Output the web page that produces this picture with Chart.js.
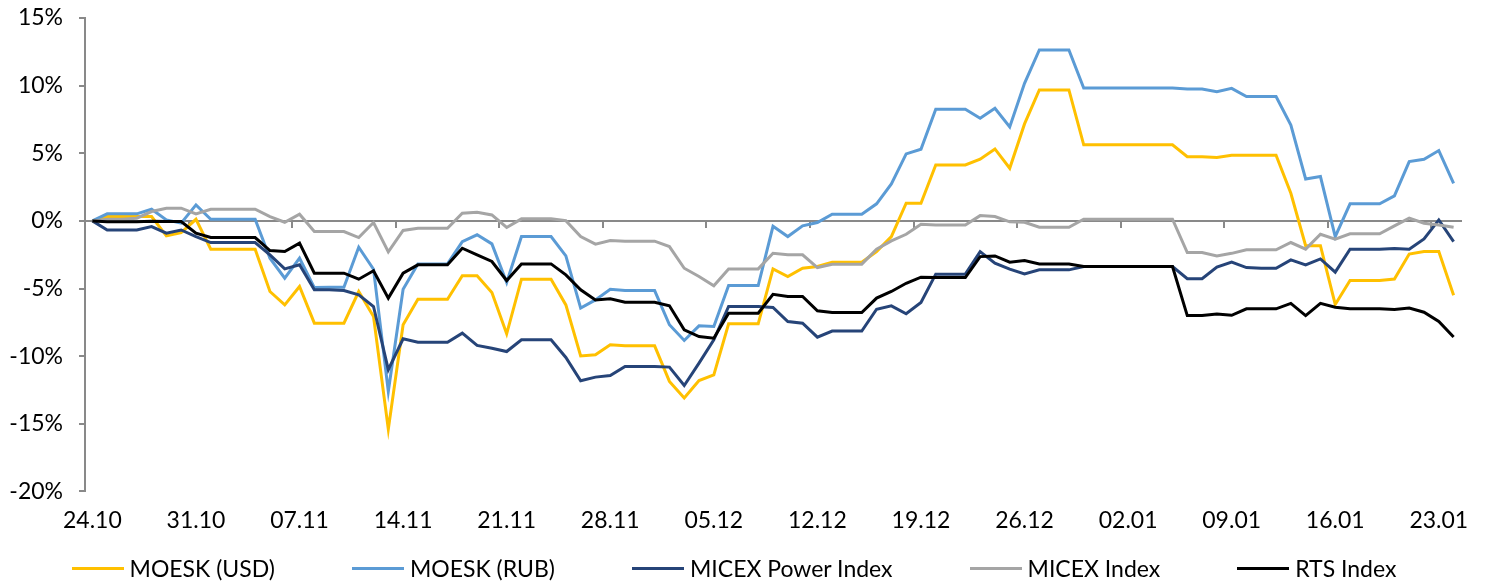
<!DOCTYPE html>
<html>
<head>
<meta charset="utf-8">
<script src="https://cdn.jsdelivr.net/npm/chart.js@4/dist/chart.umd.min.js"></script>
<style>
    html, body { margin: 0; padding: 0; background: #fff; }
    #chartWrap { position: relative; width: 1485px; height: 586px; }
    #legend {
        position: absolute; left: 0; top: 553px; width: 1485px; height: 30px;
        display: flex; justify-content: center; gap: 77px;
        font-family: Lato; font-size: 23px; line-height: 30px; color: #000;
        padding-right: 17px; box-sizing: border-box;
    }
    #legend .item { display: flex; align-items: center; white-space: nowrap; }
    #legend .swatch { width: 52px; height: 3px; margin-right: 6px; }
</style>
</head>
<body>
<div id="chartWrap">
    <canvas id="chartData"></canvas>
    <div id="legend"></div>
</div>
<script>
// one category per calendar day, 24.10 .. 24.01
const dates = [
    '24.10', '25.10', '26.10', '27.10', '28.10', '29.10', '30.10', '31.10',
    '01.11', '02.11', '03.11', '04.11', '05.11', '06.11', '07.11', '08.11', '09.11', '10.11',
    '11.11', '12.11', '13.11', '14.11', '15.11', '16.11', '17.11', '18.11', '19.11', '20.11',
    '21.11', '22.11', '23.11', '24.11', '25.11', '26.11', '27.11', '28.11', '29.11', '30.11',
    '01.12', '02.12', '03.12', '04.12', '05.12', '06.12', '07.12', '08.12', '09.12', '10.12',
    '11.12', '12.12', '13.12', '14.12', '15.12', '16.12', '17.12', '18.12', '19.12', '20.12',
    '21.12', '22.12', '23.12', '24.12', '25.12', '26.12', '27.12', '28.12', '29.12', '30.12', '31.12',
    '01.01', '02.01', '03.01', '04.01', '05.01', '06.01', '07.01', '08.01', '09.01', '10.01',
    '11.01', '12.01', '13.01', '14.01', '15.01', '16.01', '17.01', '18.01', '19.01', '20.01',
    '21.01', '22.01', '23.01', '24.01'
];

// a date label every 7th day
const labelStep = 7;

// y axis, percent
const yMin = -20;
const yMax = 15;
const yStep = 5;

const moeskUsd = [
    0, 0.32, 0.32, 0.32, 0.32, -1.11, -0.86, 0.12, -2.09, -2.09,
    -2.09, -2.09, -5.22, -6.21, -4.85, -7.56, -7.56, -7.56, -5.22, -7.07,
    -15.4, -7.68, -5.79, -5.79, -5.79, -4.06, -4.06, -5.3, -8.35, -4.31,
    -4.31, -4.31, -6.21, -9.98, -9.9, -9.16, -9.24, -9.24, -9.24, -11.87,
    -13.1, -11.8, -11.38, -7.61, -7.61, -7.61, -3.55, -4.11, -3.5, -3.37,
    -3.05, -3.05, -3.05, -2.27, -1.16, 1.31, 1.31, 4.14, 4.14, 4.14,
    4.56, 5.32, 3.89, 7.17, 9.68, 9.68, 9.68, 5.62, 5.62, 5.62,
    5.62, 5.62, 5.62, 5.62, 4.75, 4.75, 4.68, 4.85, 4.85, 4.85,
    4.85, 2.04, -1.83, -1.83, -6.18, -4.4, -4.4, -4.4, -4.3, -2.45,
    -2.27, -2.27, -5.5
];

const moeskRub = [
    0, 0.52, 0.52, 0.52, 0.86, 0.07, -0.17, 1.18, 0.12, 0.12,
    0.12, 0.12, -2.76, -4.24, -2.76, -4.93, -4.9, -4.9, -1.95, -3.57,
    -12.6, -5.05, -3.18, -3.18, -3.18, -1.53, -1.03, -1.7, -4.56, -1.16,
    -1.16, -1.16, -2.59, -6.45, -5.84, -5.05, -5.15, -5.15, -5.15, -7.68,
    -8.84, -7.76, -7.81, -4.78, -4.78, -4.78, -0.4, -1.16, -0.37, -0.12,
    0.49, 0.49, 0.49, 1.26, 2.73, 4.95, 5.3, 8.25, 8.25, 8.25,
    7.59, 8.33, 6.95, 10.17, 12.64, 12.64, 12.64, 9.82, 9.82, 9.82,
    9.82, 9.82, 9.82, 9.82, 9.75, 9.75, 9.55, 9.8, 9.2, 9.2,
    9.2, 7.09, 3.1, 3.28, -1.16, 1.26, 1.26, 1.26, 1.85, 4.38,
    4.56, 5.2, 2.78
];

const micexPower = [
    0, -0.67, -0.67, -0.67, -0.42, -0.91, -0.67, -1.16, -1.6, -1.6,
    -1.6, -1.6, -2.51, -3.55, -3.25, -5.1, -5.1, -5.15, -5.47, -6.33,
    -11.0, -8.72, -8.97, -8.97, -8.97, -8.3, -9.21, -9.41, -9.66, -8.79,
    -8.79, -8.79, -10.1, -11.82, -11.55, -11.43, -10.76, -10.76, -10.76, -10.81,
    -12.17, -10.52, -8.79, -6.33, -6.33, -6.33, -6.4, -7.44, -7.56, -8.6,
    -8.15, -8.15, -8.15, -6.53, -6.28, -6.87, -6.03, -3.94, -3.94, -3.94,
    -2.27, -3.13, -3.57, -3.92, -3.62, -3.62, -3.62, -3.37, -3.37, -3.37,
    -3.37, -3.37, -3.37, -3.37, -4.27, -4.27, -3.42, -3.05, -3.45, -3.5,
    -3.5, -2.88, -3.25, -2.81, -3.79, -2.09, -2.09, -2.09, -2.04, -2.09,
    -1.33, 0.07, -1.53
];

const micexIndex = [
    0, 0.12, 0.12, 0.2, 0.69, 0.94, 0.94, 0.52, 0.86, 0.86,
    0.86, 0.86, 0.32, -0.1, 0.49, -0.79, -0.79, -0.79, -1.23, -0.12,
    -2.29, -0.71, -0.54, -0.54, -0.54, 0.57, 0.64, 0.44, -0.49, 0.15,
    0.15, 0.15, 0.02, -1.16, -1.72, -1.45, -1.5, -1.5, -1.5, -1.9,
    -3.5, -4.11, -4.8, -3.55, -3.55, -3.55, -2.39, -2.51, -2.51, -3.45,
    -3.2, -3.2, -3.2, -2.09, -1.48, -0.99, -0.25, -0.3, -0.3, -0.3,
    0.39, 0.32, -0.07, -0.1, -0.47, -0.47, -0.47, 0.13, 0.13, 0.13,
    0.13, 0.13, 0.13, 0.13, -2.34, -2.34, -2.6, -2.4, -2.14, -2.14,
    -2.14, -1.6, -2.09, -0.99, -1.35, -0.96, -0.96, -0.96, -0.37, 0.2,
    -0.17, -0.3, -0.47
];

const rtsIndex = [
    0, -0.07, -0.07, -0.07, -0.02, -0.05, -0.05, -0.91, -1.23, -1.23,
    -1.23, -1.23, -2.19, -2.27, -1.65, -3.87, -3.87, -3.87, -4.31, -3.69,
    -5.71, -3.87, -3.25, -3.25, -3.25, -2.02, -2.51, -3.0, -4.41, -3.18,
    -3.18, -3.18, -3.99, -5.1, -5.84, -5.76, -6.01, -6.01, -6.01, -6.28,
    -8.05, -8.55, -8.67, -6.82, -6.82, -6.82, -5.43, -5.59, -5.59, -6.65,
    -6.77, -6.77, -6.77, -5.71, -5.22, -4.61, -4.16, -4.19, -4.19, -4.19,
    -2.64, -2.59, -3.05, -2.93, -3.18, -3.18, -3.18, -3.37, -3.37, -3.37,
    -3.37, -3.37, -3.37, -3.37, -7.0, -7.0, -6.88, -6.98, -6.5, -6.5,
    -6.5, -6.1, -7.0, -6.1, -6.38, -6.5, -6.5, -6.5, -6.55, -6.45,
    -6.75, -7.44, -8.59
];

const seriesNames = ['MOESK (USD)', 'MOESK (RUB)', 'MICEX Power Index', 'MICEX Index', 'RTS Index'];
const seriesValues = [moeskUsd, moeskRub, micexPower, micexIndex, rtsIndex];
const seriesColors = ['#FFC000', '#5B9BD5', '#264478', '#A5A5A5', '#000000'];

const axisGray = '#898989';
const font = { family: 'Lato', size: 23 };

let datasets = [];
for (let i = 0; i < seriesNames.length; i++) {
    datasets.push({
        label: seriesNames[i],
        data: seriesValues[i],
        borderColor: seriesColors[i],
        backgroundColor: seriesColors[i],
        borderWidth: 3,
        pointRadius: 0,
        tension: 0,
        order: seriesNames.length - i   // later series drawn on top, like Excel
    });
}

// legend below the chart, built from the same series
const legendEl = document.getElementById('legend');
datasets.forEach(ds => {
    let item = document.createElement('div');
    item.className = 'item';
    let sw = document.createElement('span');
    sw.className = 'swatch';
    sw.style.background = ds.borderColor;
    item.appendChild(sw);
    item.appendChild(document.createTextNode(ds.label));
    legendEl.appendChild(item);
});

const ctx = document.getElementById('chartData');

new Chart(ctx, {
    type: 'line',
    data: {
        labels: dates,
        datasets: datasets
    },
    options: {
        responsive: true,
        maintainAspectRatio: false,
        animation: false,
        layout: {
            padding: { left: 0, right: 24, top: 18, bottom: 45 }
        },
        plugins: {
            tooltip: { enabled: false },
            legend: { display: false }
        },
        scales: {
            x: {
                type: 'category',
                offset: true,
                grid: { display: false },
                border: { display: false },
                ticks: {
                    autoSkip: false,
                    maxRotation: 0,
                    padding: 7,
                    color: '#000',
                    font: font,
                    callback: (val, i) => (i % labelStep === 0 ? dates[i] : null)
                }
            },
            // the category axis crossing at 0%, with its tick marks
            xz: {
                type: 'category',
                axis: 'x',
                offset: true,
                position: { y: 0 },
                border: { display: true, color: axisGray, width: 2 },
                grid: {
                    offset: true,
                    drawOnChartArea: false,
                    drawTicks: true,
                    tickLength: 6,
                    lineWidth: 2,
                    color: (c) => (c.index % labelStep === 0 ? axisGray : 'rgba(0,0,0,0)')
                },
                ticks: { display: false, autoSkip: false }
            },
            y: {
                min: yMin,
                max: yMax,
                afterFit: (scale) => {
                    scale.width = 85;
                    scale.paddingTop = 0;
                    scale.paddingBottom = 0;
                },
                border: { display: true, color: axisGray, width: 2 },
                grid: {
                    drawOnChartArea: false,
                    drawTicks: true,
                    tickLength: 6,
                    lineWidth: 2,
                    color: axisGray
                },
                ticks: {
                    stepSize: yStep,
                    padding: 16,
                    color: '#000',
                    font: font,
                    callback: (v) => v + '%'
                }
            }
        }
    }
});
</script>
</body>
</html>
